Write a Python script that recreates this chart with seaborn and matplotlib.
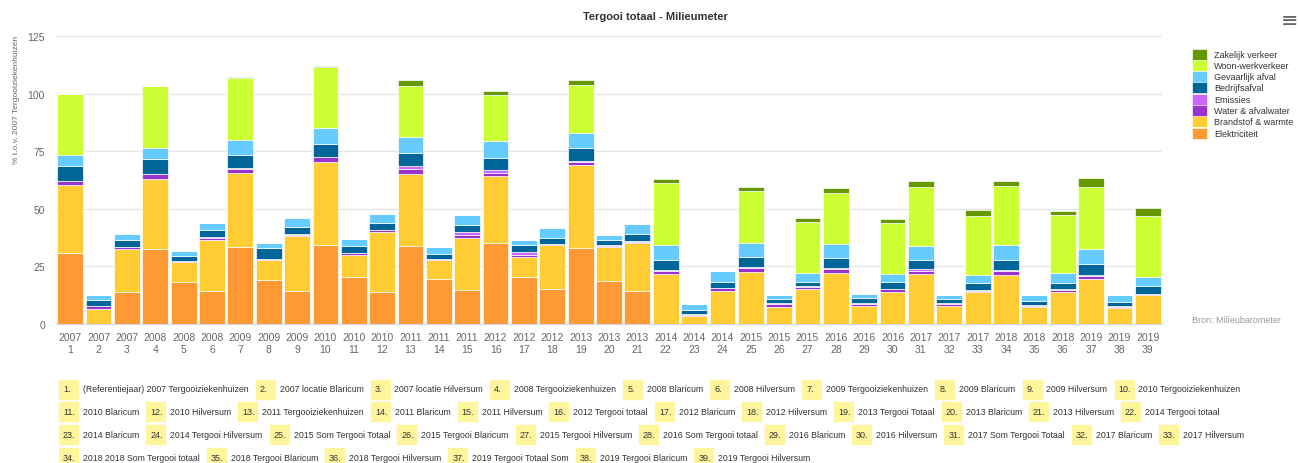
import numpy as np
import matplotlib
matplotlib.use("Agg")
import matplotlib.pyplot as plt
from matplotlib.patches import Rectangle
from matplotlib import font_manager
import seaborn as sns

# Data
years = [2007, 2007, 2007, 2008, 2008, 2008, 2009, 2009, 2009, 2010, 2010, 2010, 2011,
         2011, 2011, 2012, 2012, 2012, 2013, 2013, 2013, 2014, 2014, 2014, 2015, 2015,
         2015, 2016, 2016, 2016, 2017, 2017, 2017, 2018, 2018, 2018, 2019, 2019, 2019]

elektriciteit = [31.0, 0.0, 14.0, 32.7, 18.3, 14.3, 33.4, 19.2, 14.3, 34.5, 20.5, 14.0, 34.0,
                 19.5, 14.8, 35.2, 20.2, 15.4, 33.1, 18.8, 14.3, 0, 0, 0, 0, 0,
                 0, 0, 0, 0, 0, 0, 0, 0, 0, 0, 0, 0, 0]
brandstof = [29.3, 6.5, 18.6, 30.4, 8.4, 22.2, 32.3, 8.4, 23.8, 35.7, 9.3, 25.8, 31.1,
             8.1, 22.7, 29.1, 9.0, 18.8, 35.9, 14.6, 20.9, 21.5, 3.4, 14.5, 22.5, 7.5,
             15.3, 22.2, 8.0, 14.1, 21.5, 8.0, 13.7, 21.2, 7.3, 13.8, 19.5, 7.0, 12.4]
water = [1.6, 1.1, 0.8, 2.0, 0.5, 1.0, 1.6, 0.3, 0.7, 2.1, 1.0, 0.9, 2.2,
         0.4, 1.0, 1.4, 0.6, 0.5, 1.2, 0.5, 0.6, 1.5, 0.7, 1.0, 1.8, 1.1,
         0.8, 1.5, 0.6, 1.0, 1.6, 0.6, 0.8, 1.8, 0.6, 0.9, 1.3, 0.4, 0.6]
emissies = [0.3, 0.2, 0.2, 0.2, 0.1, 0.2, 0.2, 0.1, 0.2, 0.2, 0.2, 0.2, 1.4,
            0.2, 1.5, 1.3, 1.6, 0.2, 0.7, 0.2, 0.2, 0.3, 0.3, 0.3, 0.6, 0.3,
            0.3, 0.7, 0.4, 0.3, 0.6, 0.3, 0.3, 0.4, 0.2, 0.3, 0.3, 0.2, 0.2]
bedrijfsafval = [6.3, 2.7, 3.0, 6.2, 2.2, 3.0, 5.8, 5.1, 3.2, 5.6, 2.7, 3.0, 5.6,
                 2.3, 3.0, 5.0, 2.8, 2.3, 5.3, 2.5, 3.0, 4.6, 1.7, 2.6, 4.0, 2.0,
                 2.0, 4.4, 2.1, 3.0, 4.1, 2.0, 2.9, 4.5, 1.9, 3.0, 5.1, 2.0, 3.4]
gevaarlijk = [4.8, 2.0, 2.6, 4.8, 2.2, 3.2, 6.6, 2.1, 4.0, 7.1, 3.1, 3.8, 7.0,
              2.8, 4.2, 7.3, 2.3, 4.5, 6.8, 2.2, 4.5, 6.6, 2.5, 4.6, 6.2, 1.9,
              3.8, 6.0, 2.0, 3.4, 6.2, 1.9, 3.5, 6.6, 2.8, 4.2, 6.5, 2.8, 4.0]
woonwerk = [26.4, 0, 0, 26.9, 0, 0, 26.8, 0, 0, 26.3, 0, 0, 22.2,
            0, 0, 19.9, 0, 0, 20.7, 0, 0, 26.6, 0, 0, 22.5, 0,
            22.2, 22.0, 0, 22.1, 25.6, 0, 25.6, 25.5, 0, 24.9, 26.6, 0, 26.1]
zakelijk = [0.3, 0, 0, 0.3, 0, 0, 0.3, 0, 0, 0.3, 0, 0, 2.3,
            0, 0, 2.0, 0, 0, 2.1, 0, 0, 2.0, 0, 0, 2.0, 0,
            1.8, 2.1, 0, 1.8, 2.6, 0, 2.6, 2.1, 0, 2.0, 3.9, 0, 3.8]

series_names = ["Elektriciteit", "Brandstof & warmte", "Water & afvalwater", "Emissies",
                "Bedrijfsafval", "Gevaarlijk afval", "Woon-werkverkeer", "Zakelijk verkeer"]
series_values = [elektriciteit, brandstof, water, emissies,
                 bedrijfsafval, gevaarlijk, woonwerk, zakelijk]
series_colors = ["#ff9933", "#ffcc33", "#9933cc", "#cc66ff",
                 "#006699", "#66ccff", "#ccff33", "#669900"]

descriptions = [
    "(Referentiejaar) 2007 Tergooiziekenhuizen", "2007 locatie Blaricum", "2007 locatie Hilversum",
    "2008 Tergooiziekenhuizen", "2008 Blaricum", "2008 Hilversum",
    "2009 Tergooiziekenhuizen", "2009 Blaricum", "2009 Hilversum",
    "2010 Tergooiziekenhuizen", "2010 Blaricum", "2010 Hilversum",
    "2011 Tergooiziekenhuizen", "2011 Blaricum", "2011 Hilversum",
    "2012 Tergooi totaal", "2012 Blaricum", "2012 Hilversum",
    "2013 Tergooi Totaal", "2013 Blaricum", "2013 Hilversum",
    "2014 Tergooi totaal", "2014 Blaricum", "2014 Tergooi Hilversum",
    "2015 Som Tergooi Totaal", "2015 Tergooi Blaricum", "2015 Tergooi Hilversum",
    "2016 Som Tergooi totaal", "2016 Blaricum", "2016 Hilversum",
    "2017 Som Tergooi Totaal", "2017 Blaricum", "2017 Hilversum",
    "2018 2018 Som Tergooi totaal", "2018 Tergooi Blaricum", "2018 Tergooi Hilversum",
    "2019 Tergooi Totaal Som", "2019 Tergooi Blaricum", "2019 Tergooi Hilversum",
]
# how the numbered notes wrap into rows
row_breaks = [(0, 10), (10, 22), (22, 33), (33, 39)]

sns.set_style("white")
installed = {f.name for f in font_manager.fontManager.ttflist}
narrow = "Liberation Sans Narrow" if "Liberation Sans Narrow" in installed else "Liberation Sans"
plt.rcParams['font.family'] = [narrow, 'DejaVu Sans']

W, H = 1298, 464
fig = plt.figure(figsize=(W / 100, H / 100), dpi=100)
ax = fig.add_axes([56 / W, 1 - 325 / H, (1162 - 56) / W, (325 - 37) / H])

labels = [f"{y}\n{i + 1}" for i, y in enumerate(years)]
bottom = np.zeros(len(labels))
for name, vals, col in zip(series_names, series_values, series_colors):
    sns.barplot(x=labels, y=vals, order=labels, bottom=bottom, color=col, saturation=1,
                width=0.91, edgecolor="white", linewidth=0.5, ax=ax)
    bottom = bottom + np.array(vals)

ax.set_xlim(-0.5, len(labels) - 0.5)
ax.set_ylim(0, 125)
ax.set_yticks([0, 25, 50, 75, 100, 125])
ax.set_xlabel("")
ax.set_ylabel("")
ax.yaxis.grid(True, color="#e6e6e6", lw=1)
ax.set_axisbelow(True)
for s in ["left", "top", "right"]:
    ax.spines[s].set_visible(False)
ax.spines["bottom"].set_color("#ccd6eb")
ax.set_xticks(np.arange(-0.5, len(labels)), minor=True)
ax.tick_params(axis="x", which="minor", length=6, color="#ccd6eb")
ax.tick_params(axis="x", which="major", length=0, pad=6, labelsize=7.5, labelcolor="#666666")
ax.tick_params(axis="y", length=0, pad=8, labelsize=7.5, labelcolor="#666666")

fig.text(655 / W, 1 - 17 / H, "Tergooi totaal - Milieumeter", ha="center", va="center",
         fontsize=8, fontweight="bold", color="#333333")
fig.text(17 / W, 1 - 100 / H, "% t.o.v. 2007 Tergooiziekenhuizen", rotation=90,
         ha="center", va="center", fontsize=6, color="#666666")
fig.text(1290 / W, 1 - 21 / H, "\u2261", ha="center", va="center", fontsize=15,
         color="#666666", family="DejaVu Sans")
fig.text(1236 / W, 1 - 321 / H, "Bron: Milieubarometer", ha="center", va="center",
         fontsize=6.5, color="#999999")

# legend on the right, top item first
for k, idx in enumerate(range(len(series_names) - 1, -1, -1)):
    yc = 55 + k * 11.3
    fig.patches.append(Rectangle((1193 / W, 1 - (yc + 4.5) / H), 13 / W, 9 / H,
                                 transform=fig.transFigure, color=series_colors[idx]))
    fig.text(1214 / W, 1 - yc / H, series_names[idx], ha="left", va="center",
             fontsize=6.5, color="#333333")

# numbered notes under the chart
fig.canvas.draw()
renderer = fig.canvas.get_renderer()
for r, (a, b) in enumerate(row_breaks):
    yc = 390 + r * 22.7
    x = 59
    for i in range(a, b):
        fig.patches.append(Rectangle((x / W, 1 - (yc + 9.5) / H), 19 / W, 19 / H,
                                     transform=fig.transFigure, color="#fff59d"))
        fig.text((x + 4) / W, 1 - yc / H, f"{i + 1}.", ha="left", va="center",
                 fontsize=6.5, color="#333333")
        t = fig.text((x + 24) / W, 1 - yc / H, descriptions[i], ha="left", va="center",
                     fontsize=6.35, color="#333333")
        x = x + 24 + t.get_window_extent(renderer).width + 7

fig.savefig("out.png", dpi=100)
